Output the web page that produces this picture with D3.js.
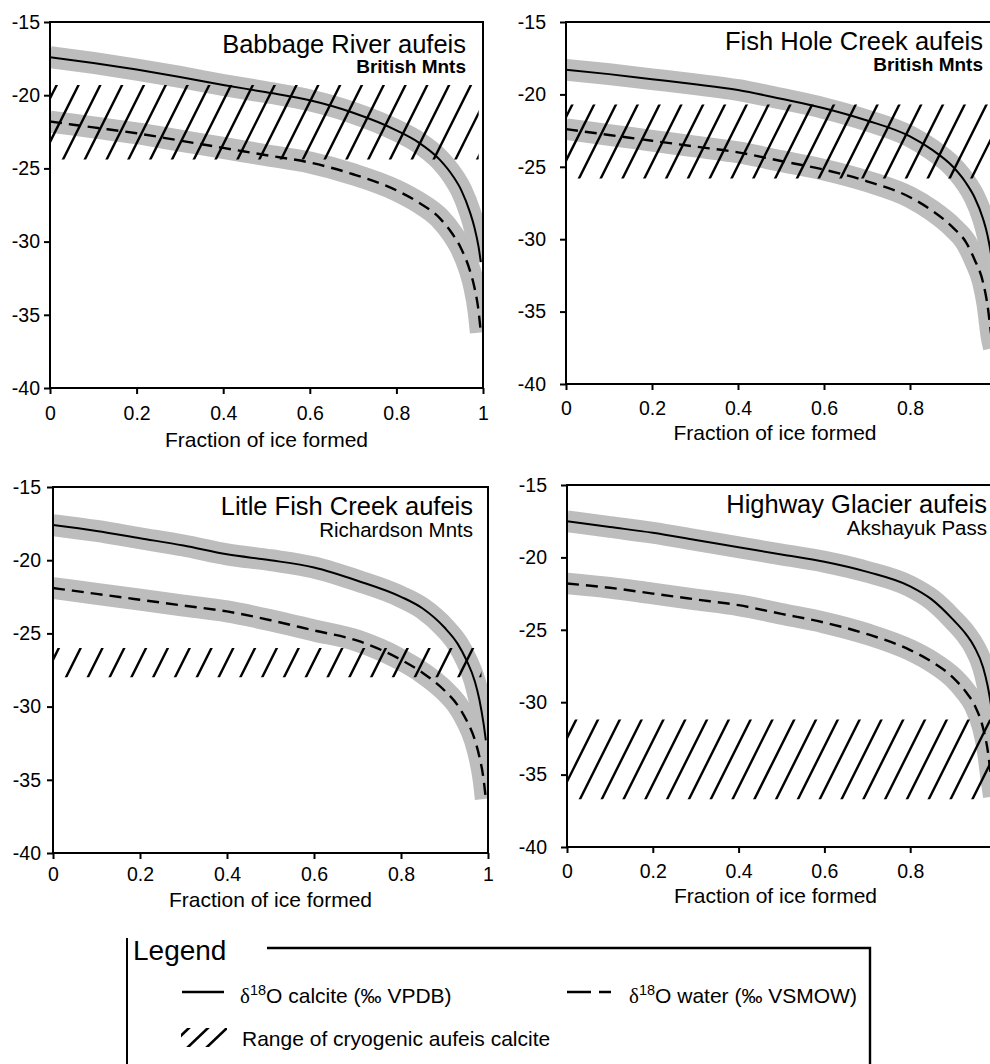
<!DOCTYPE html>
<html><head><meta charset="utf-8">
<script src="https://cdn.jsdelivr.net/npm/d3@7"></script>
<style>body{margin:0;background:#fff}</style>
</head><body>
<svg id="c" width="990" height="1064" xmlns="http://www.w3.org/2000/svg"></svg>
<script>
// ---------- data ----------
const fractions = [0, 0.1, 0.2, 0.3, 0.4, 0.5, 0.6, 0.7, 0.8, 0.85, 0.9, 0.93, 0.95, 0.97, 0.98, 0.99, 0.995];

const titles = ["Babbage River aufeis", "Fish Hole Creek aufeis", "Litle Fish Creek aufeis", "Highway Glacier aufeis"];
const subtitles = ["British Mnts", "British Mnts", "Richardson Mnts", "Akshayuk Pass"];

const calciteBabbage = [-17.4, -17.8, -18.25, -18.75, -19.3, -19.8, -20.35, -21.2, -22.4, -23.2, -24.4, -25.5, -26.5, -28.0, -29.0, -30.4, -31.4];
const waterBabbage   = [-21.8, -22.2, -22.6, -23.1, -23.6, -24.1, -24.6, -25.4, -26.5, -27.3, -28.4, -29.5, -30.5, -32.0, -33.1, -34.8, -36.2];

const calciteFishHole = [-18.3, -18.6, -18.95, -19.3, -19.7, -20.3, -20.95, -21.8, -22.9, -23.8, -25.0, -26.1, -27.1, -28.6, -29.7, -31.4, -32.8];
const waterFishHole   = [-22.4, -22.8, -23.2, -23.6, -24.0, -24.6, -25.2, -26.0, -27.1, -28.0, -29.2, -30.2, -31.4, -33.0, -34.5, -36.8, -37.5];

const calciteLitleFish = [-17.6, -18.0, -18.5, -19.0, -19.6, -20.0, -20.5, -21.4, -22.5, -23.3, -24.6, -25.7, -26.8, -28.3, -29.5, -31.2, -32.3];
const waterLitleFish   = [-21.9, -22.3, -22.7, -23.1, -23.5, -24.1, -24.8, -25.5, -26.8, -27.7, -28.9, -29.9, -30.9, -32.3, -33.4, -35.0, -36.3];

const calciteHighway = [-17.5, -17.9, -18.3, -18.8, -19.3, -19.8, -20.3, -21.0, -22.0, -22.9, -24.3, -25.3, -26.2, -27.6, -28.8, -30.5, -31.5];
const waterHighway   = [-21.8, -22.1, -22.5, -22.9, -23.3, -23.9, -24.5, -25.3, -26.4, -27.2, -28.3, -29.3, -30.2, -31.8, -33.2, -35.5, -36.5];

// range of cryogenic aufeis calcite: [low ‰, high ‰, from fraction, to fraction]
const rangeBabbage   = [-24.4, -19.3, 0, 0.99];
const rangeFishHole  = [-25.8, -20.7, 0, 1.0];
const rangeLitleFish = [-28.0, -26.0, 0, 0.985];
const rangeHighway   = [-36.7, -31.2, 0, 1.0];

const bandHalfWidth = 0.75; // ‰ uncertainty envelope

const yTicks = [-15, -20, -25, -30, -35, -40];
const xTicks = [0, 0.2, 0.4, 0.6, 0.8, 1];
const xAxisTitle = "Fraction of ice formed";

// ---------- layout ----------
const FONT = "'Liberation Sans', Arial, Helvetica, sans-serif";
const layouts = [
  {l: 50,  r: 483, t: 22,  b: 388, xPad: 12, yPad: 4,  axT: 447, tY: 53,  sY: 73,  hx: 466, bold: true},
  {l: 566, r: 996, t: 22,  b: 384, xPad: 11, yPad: 14, axT: 440, tY: 50,  sY: 71,  hx: 983, bold: true},
  {l: 53,  r: 488, t: 487, b: 853, xPad: 8,  yPad: 6,  axT: 907, tY: 515, sY: 537, hx: 473, bold: false},
  {l: 567, r: 996, t: 485, b: 847, xPad: 11, yPad: 14, axT: 903, tY: 513, sY: 535, hx: 987, bold: false}
];
const calcites = [calciteBabbage, calciteFishHole, calciteLitleFish, calciteHighway];
const waters = [waterBabbage, waterFishHole, waterLitleFish, waterHighway];
const ranges = [rangeBabbage, rangeFishHole, rangeLitleFish, rangeHighway];

const svg = d3.select("#c");
svg.append("rect").attr("width", 990).attr("height", 1064).attr("fill", "#fff");
const defs = svg.append("defs");

layouts.forEach((L, i) => {
  const x = d3.scaleLinear().domain([0, 1]).range([L.l, L.r]);
  const y = d3.scaleLinear().domain([-40, -15]).range([L.b, L.t]);
  const g = svg.append("g");

  const cid = "clip" + i;
  defs.append("clipPath").attr("id", cid).append("rect")
    .attr("x", L.l).attr("y", L.t).attr("width", L.r - L.l).attr("height", L.b - L.t);
  const plot = g.append("g").attr("clip-path", `url(#${cid})`);

  const line = d3.line().x(d => x(d[0])).y(d => y(d[1])).curve(d3.curveMonotoneX);
  const cal = fractions.map((f, k) => [f, calcites[i][k]]);
  const wat = fractions.map((f, k) => [f, waters[i][k]]);
  const bandW = Math.abs(y(-15) - y(-15 - 2 * bandHalfWidth));

  // uncertainty bands
  [wat, cal].forEach(series => {
    plot.append("path").attr("d", line(series)).attr("fill", "none")
      .attr("stroke", "#bdbdbd").attr("stroke-width", bandW).attr("stroke-linecap", "butt")
      .attr("stroke-linejoin", "round");
  });

  // hatched range
  const R = ranges[i];
  const rx0 = x(R[2]), rx1 = x(R[3]), ry0 = y(R[1]), ry1 = y(R[0]);
  const hid = "hclip" + i;
  defs.append("clipPath").attr("id", hid).append("rect")
    .attr("x", rx0).attr("y", ry0).attr("width", rx1 - rx0).attr("height", ry1 - ry0);
  const hh = ry1 - ry0, slope = 0.5, spacing = 21.8;
  const hatch = plot.append("g").attr("clip-path", `url(#${hid})`);
  for (let bx = rx0 + 12 - Math.ceil((hh * slope + 30) / spacing) * spacing; bx < rx1 + spacing; bx += spacing) {
    hatch.append("line").attr("x1", bx).attr("y1", ry1 + 2).attr("x2", bx + (hh + 4) * slope).attr("y2", ry0 - 2)
      .attr("stroke", "#000").attr("stroke-width", 2.4);
  }

  // curves
  plot.append("path").attr("d", line(wat)).attr("fill", "none")
    .attr("stroke", "#000").attr("stroke-width", 2.4).attr("stroke-dasharray", "12,7");
  plot.append("path").attr("d", line(cal)).attr("fill", "none")
    .attr("stroke", "#000").attr("stroke-width", 2);

  // frame
  g.append("rect").attr("x", L.l).attr("y", L.t).attr("width", L.r - L.l).attr("height", L.b - L.t)
    .attr("fill", "none").attr("stroke", "#000").attr("stroke-width", 2);

  // axes
  const ax = g.append("g").attr("transform", `translate(0,${L.b})`)
    .call(d3.axisBottom(x).tickValues(xTicks).tickSize(6).tickPadding(L.xPad).tickFormat(d => String(d)));
  const ay = g.append("g").attr("transform", `translate(${L.l},0)`)
    .call(d3.axisLeft(y).tickValues(yTicks).tickSize(6).tickPadding(L.yPad).tickFormat(d => String(d)));
  [ax, ay].forEach(a => {
    a.select(".domain").remove();
    a.selectAll(".tick line").attr("stroke", "#000").attr("stroke-width", 2);
    a.selectAll(".tick text").attr("fill", "#000").attr("font-family", FONT).attr("font-size", 19.5);
  });

  // axis title
  g.append("text").attr("x", (L.l + L.r) / 2 - (i % 2 ? 6 : 0)).attr("y", L.axT).attr("text-anchor", "middle")
    .attr("font-family", FONT).attr("font-size", 21).text(xAxisTitle);

  // panel title
  g.append("text").attr("x", L.hx).attr("y", L.tY).attr("text-anchor", "end")
    .attr("font-family", FONT).attr("font-size", 25.5).text(titles[i]);
  g.append("text").attr("x", L.hx).attr("y", L.sY).attr("text-anchor", "end")
    .attr("font-family", FONT).attr("font-size", L.bold ? 19 : 20.5)
    .attr("font-weight", L.bold ? "bold" : "normal").text(subtitles[i]);
});

// ---------- legend ----------
const lg = svg.append("g").attr("font-family", FONT).attr("fill", "#000");
lg.append("path").attr("d", "M127,938 V1064").attr("stroke", "#000").attr("stroke-width", 2).attr("fill", "none");
lg.append("path").attr("d", "M267,948 H870 V1064").attr("stroke", "#000").attr("stroke-width", 2.4).attr("fill", "none");
lg.append("text").attr("x", 133).attr("y", 960).attr("font-size", 28).text("Legend");

lg.append("line").attr("x1", 182).attr("x2", 224).attr("y1", 992).attr("y2", 992)
  .attr("stroke", "#000").attr("stroke-width", 2.4);
const t1 = lg.append("text").attr("x", 240).attr("y", 1003).attr("font-size", 21);
t1.append("tspan").attr("font-family", "'Liberation Serif', 'Times New Roman', serif").text("δ");
t1.append("tspan").attr("font-size", 14.5).attr("dy", -8).text("18");
t1.append("tspan").attr("dy", 8).text("O calcite (‰ VPDB)");

lg.append("line").attr("x1", 567).attr("x2", 611).attr("y1", 992).attr("y2", 992)
  .attr("stroke", "#000").attr("stroke-width", 2.4).attr("stroke-dasharray", "24,8");
const t2 = lg.append("text").attr("x", 629).attr("y", 1003).attr("font-size", 21);
t2.append("tspan").attr("font-family", "'Liberation Serif', 'Times New Roman', serif").text("δ");
t2.append("tspan").attr("font-size", 14.5).attr("dy", -8).text("18");
t2.append("tspan").attr("dy", 8).text("O water (‰ VSMOW)");

defs.append("clipPath").attr("id", "lgh").append("rect").attr("x", 181).attr("y", 1028).attr("width", 46).attr("height", 19);
const lh = lg.append("g").attr("clip-path", "url(#lgh)");
[168, 187, 206].forEach(bx => {
  lh.append("line").attr("x1", bx).attr("y1", 1048).attr("x2", bx + 22).attr("y2", 1027)
    .attr("stroke", "#000").attr("stroke-width", 2.6);
});
lg.append("text").attr("x", 242).attr("y", 1046).attr("font-size", 21).text("Range of cryogenic aufeis calcite");
</script>
</body></html>
